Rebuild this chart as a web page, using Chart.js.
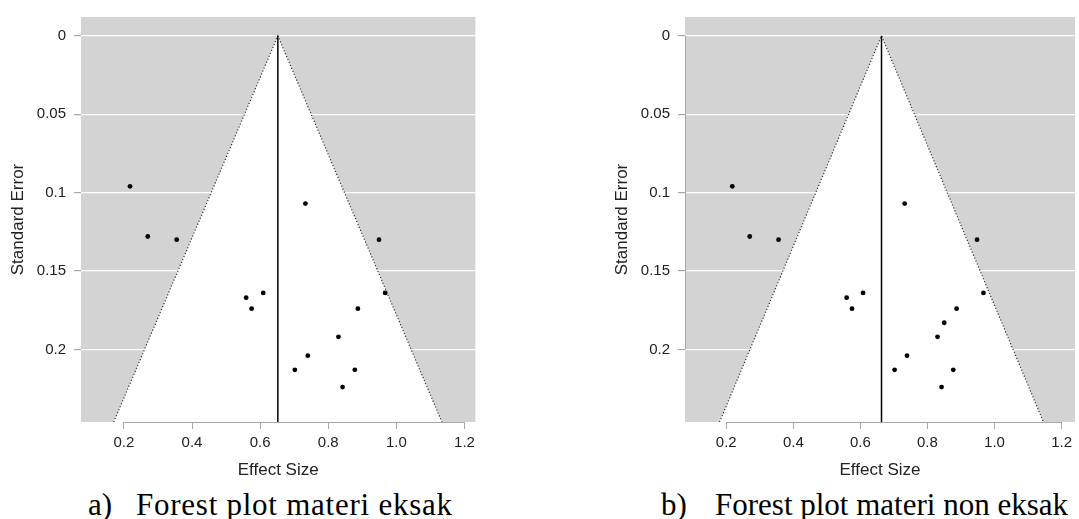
<!DOCTYPE html>
<html>
<head>
<meta charset="utf-8">
<script src="https://cdn.jsdelivr.net/npm/chart.js@4"></script>
<style>
  html, body { margin: 0; padding: 0; background: #fff; }
  body { width: 1079px; height: 519px; position: relative; overflow: hidden; }
  .panel { position: absolute; top: 0; }
  .cap { position: absolute; top: 489px; font-family: "Liberation Serif", "Times New Roman", serif;
         font-size: 31px; line-height: 31px; color: #000; white-space: nowrap; }
</style>
</head>
<body>
<div class="panel" style="left:0"><canvas id="plotA" width="480" height="482"></canvas></div>
<div class="panel" style="left:604px"><canvas id="plotB" width="475" height="482"></canvas></div>
<div class="cap" style="left:88px">a)</div>
<div class="cap" style="left:136px;letter-spacing:0.75px">Forest plot materi eksak</div>
<div class="cap" style="left:661px">b)</div>
<div class="cap" style="left:715px">Forest plot materi non eksak</div>

<script>
// --- DATA ---
const seTicks = [0, 0.05, 0.1, 0.15, 0.2];
const esTicks = [0.2, 0.4, 0.6, 0.8, 1.0, 1.2];
const funnelSE = [0.2463, 0, 0.2463];

// a) materi eksak
const effectA = [0.218, 0.270, 0.355, 0.733, 0.949, 0.559, 0.609, 0.575, 0.967, 0.887, 0.830, 0.740, 0.702, 0.878, 0.842];
const seA     = [0.096, 0.128, 0.130, 0.107, 0.130, 0.167, 0.164, 0.174, 0.164, 0.174, 0.192, 0.204, 0.213, 0.213, 0.224];
const pooledA = 0.652;
const funnelXA = [0.170, 0.652, 1.134];

// b) materi non eksak
const effectB = [0.218, 0.270, 0.356, 0.732, 0.948, 0.559, 0.608, 0.575, 0.967, 0.887, 0.850, 0.830, 0.739, 0.702, 0.877, 0.842];
const seB     = [0.096, 0.128, 0.130, 0.107, 0.130, 0.167, 0.164, 0.174, 0.164, 0.174, 0.183, 0.192, 0.204, 0.213, 0.213, 0.224];
const pooledB = 0.663;
const funnelXB = [0.180, 0.663, 1.146];

const Y_MIN = -0.012;
const Y_MAX = 0.2463;
const FONT = 'Liberation Sans, Arial, sans-serif';

// gray panel behind everything, R-style axis lines from first to last tick
const panelBg = {
  id: 'panelBg',
  beforeDraw(chart) {
    const { ctx, chartArea: a } = chart;
    ctx.save();
    ctx.fillStyle = '#d3d3d3';
    ctx.fillRect(a.left, a.top, a.right - a.left, a.bottom - a.top);
    ctx.restore();
  },
  afterDraw(chart, args, opts) {
    const { ctx, chartArea: a, scales: { x, y } } = chart;
    ctx.save();
    ctx.strokeStyle = '#a8a8a8';
    ctx.lineWidth = 1;
    ctx.beginPath();
    ctx.moveTo(x.getPixelForValue(esTicks[0]), a.bottom + 0.5);
    ctx.lineTo(x.getPixelForValue(esTicks[esTicks.length - 1]), a.bottom + 0.5);
    if (opts.yLine) {
      ctx.moveTo(a.left + 0.5, y.getPixelForValue(seTicks[0]));
      ctx.lineTo(a.left + 0.5, y.getPixelForValue(seTicks[seTicks.length - 1]));
    }
    ctx.stroke();
    ctx.restore();
  }
};

function makePlot(id, effect, se, pooled, funnelX, xMin, xMax, padRight, yLine) {
  const funnelPts = funnelX.map((x, i) => ({ x: x, y: funnelSE[i] }));
  return new Chart(document.getElementById(id), {
    type: 'line',
    data: {
      datasets: [
        { // white inside of the funnel
          data: funnelPts, fill: { value: Y_MAX }, backgroundColor: '#fff',
          borderColor: 'rgba(0,0,0,0)', borderWidth: 0, pointRadius: 0, order: 3
        },
        { // dotted funnel edges
          data: funnelPts, fill: false, borderColor: '#333', borderWidth: 1.2,
          borderDash: [1.2, 2], pointRadius: 0, order: 2
        },
        { // pooled effect
          data: [{ x: pooled, y: 0 }, { x: pooled, y: Y_MAX }], fill: false,
          borderColor: '#000', borderWidth: 1.5, pointRadius: 0, order: 1
        },
        { // studies
          data: effect.map((x, i) => ({ x: x, y: se[i] })), showLine: false,
          pointRadius: 2.4, pointBackgroundColor: '#000', pointBorderWidth: 0, order: 0
        }
      ]
    },
    options: {
      responsive: false,
      animation: false,
      layout: { padding: { top: 15, right: padRight, bottom: 0, left: 0 } },
      plugins: {
        legend: { display: false },
        tooltip: { enabled: false },
        panelBg: { yLine: yLine }
      },
      scales: {
        x: {
          type: 'linear', min: xMin, max: xMax,
          afterBuildTicks: s => { s.ticks = esTicks.map(v => ({ value: v })); },
          afterFit: s => { s.height = 60; },
          grid: { drawOnChartArea: false, drawTicks: true, tickLength: 7, tickColor: '#a8a8a8' },
          border: { display: false },
          ticks: { padding: 5, color: '#222', font: { size: 15, family: FONT }, maxRotation: 0, autoSkip: false,
                   callback: v => v.toFixed(1) },
          title: { display: true, text: 'Effect Size', color: '#222', font: { size: 17, family: FONT },
                   padding: { top: 0, bottom: 1 } }
        },
        y: {
          type: 'linear', reverse: true, min: Y_MIN, max: Y_MAX,
          afterBuildTicks: s => { s.ticks = seTicks.map(v => ({ value: v })); },
          afterFit: s => { s.width = 81; },
          grid: { color: '#fff', lineWidth: 1.2, tickLength: 7, tickColor: '#a8a8a8' },
          border: { display: false },
          ticks: { padding: 8, color: '#222', font: { size: 15, family: FONT }, callback: v => String(v) },
          title: { display: true, text: 'Standard Error', color: '#222', font: { size: 17, family: FONT },
                   padding: { top: 8, bottom: 0 } }
        }
      }
    },
    plugins: [panelBg]
  });
}

makePlot('plotA', effectA, seA, pooledA, funnelXA, 0.074, 1.232, 4, false);
makePlot('plotB', effectB, seB, pooledB, funnelXB, 0.077, 1.240, 0, true);
</script>
</body>
</html>
